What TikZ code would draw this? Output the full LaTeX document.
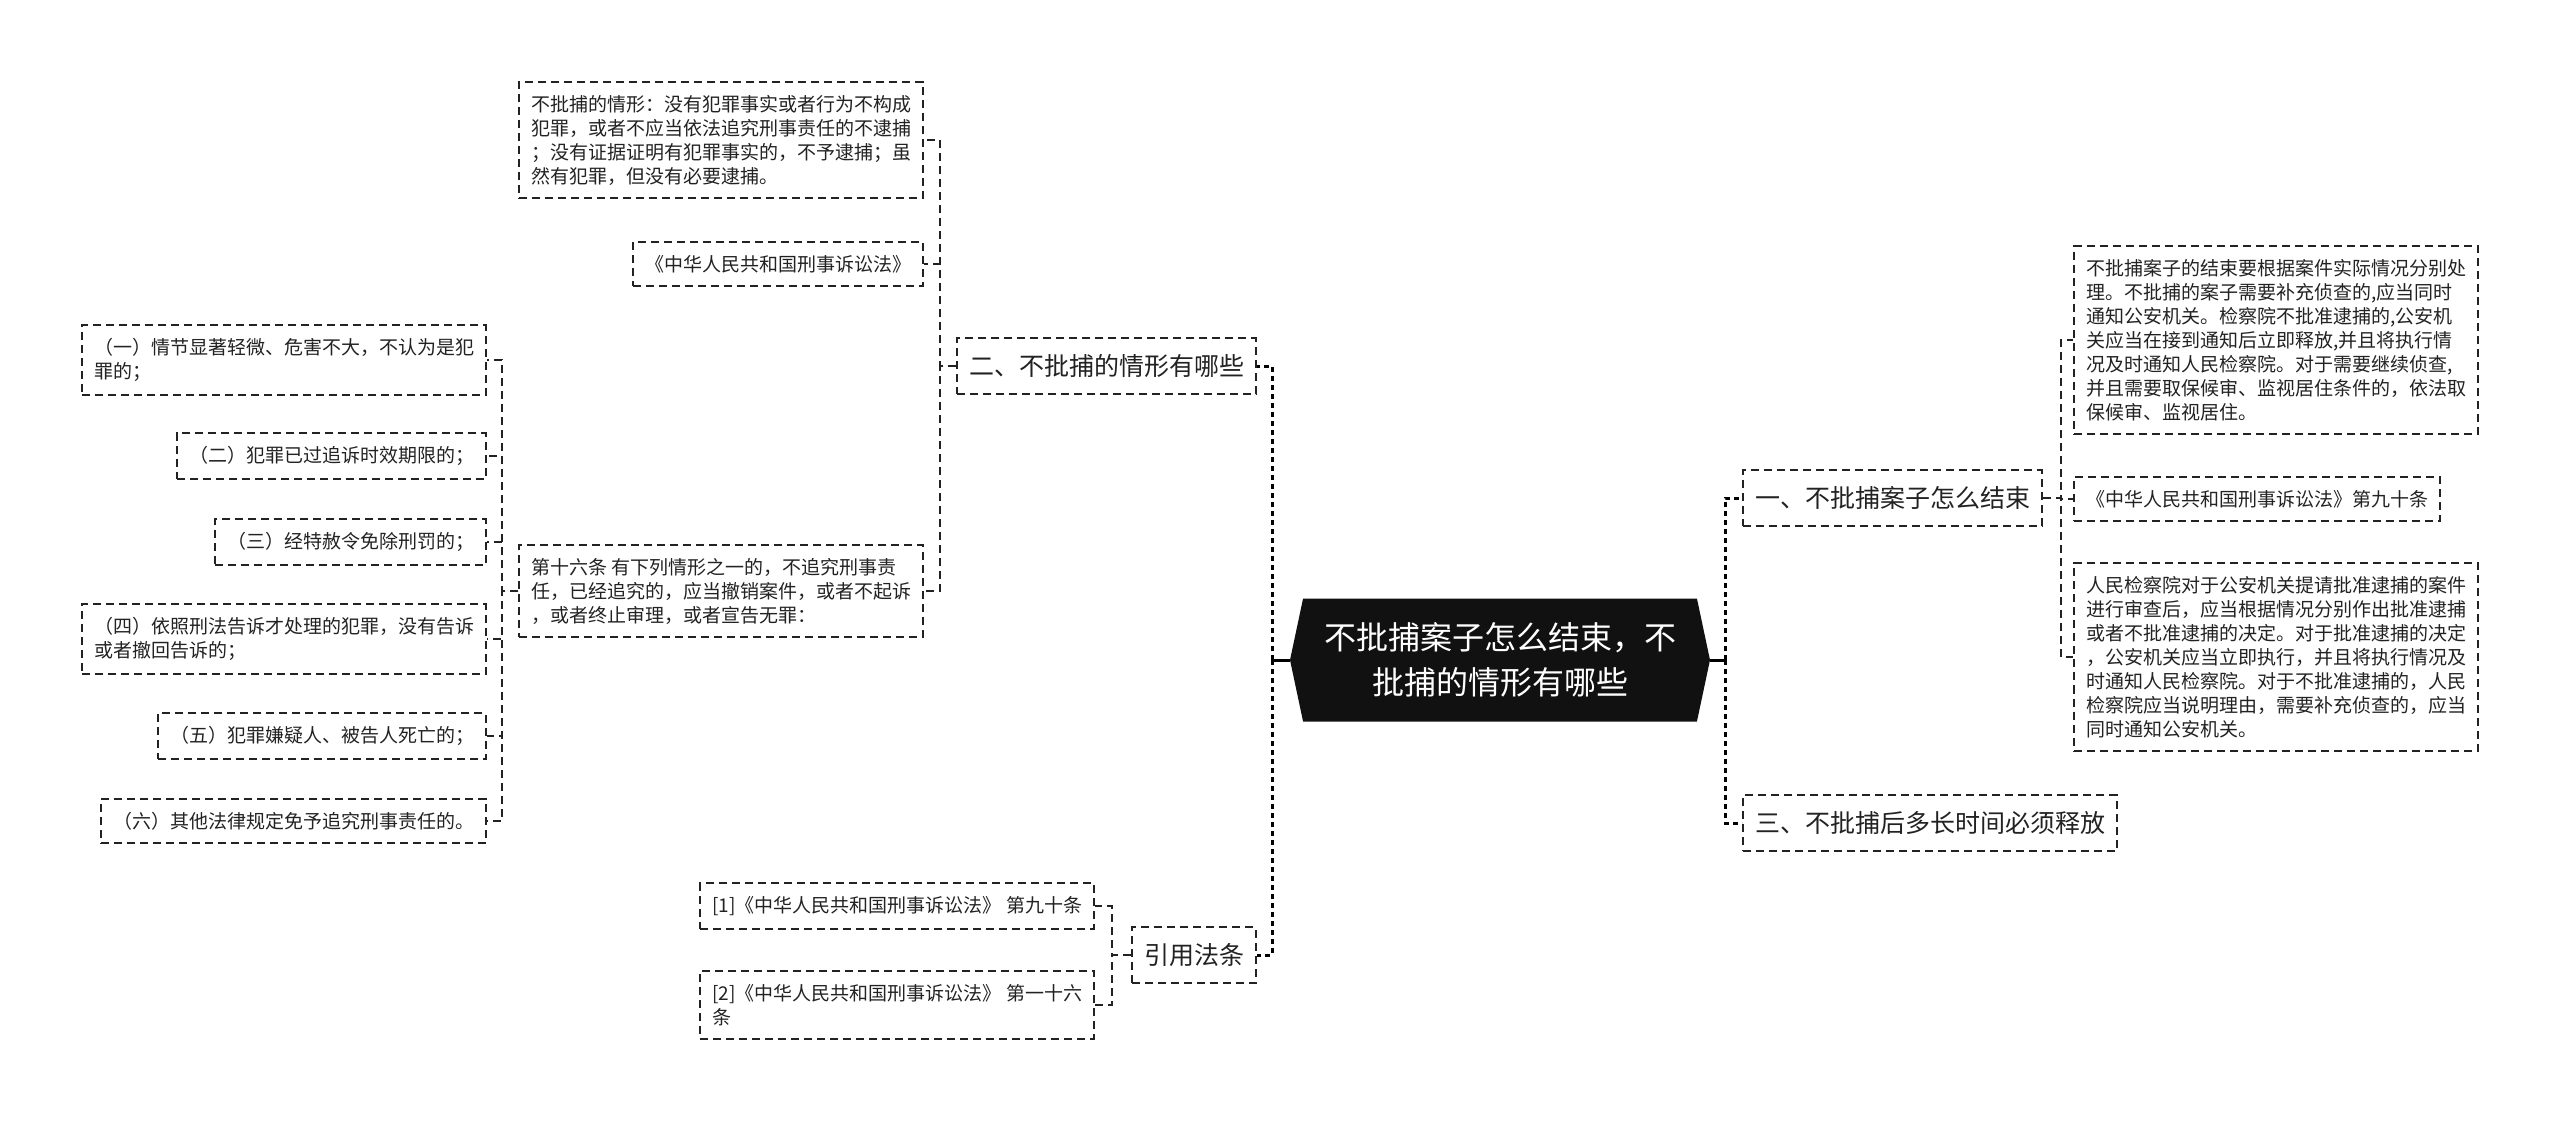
\documentclass[tikz,border=0pt]{standalone}
\usepackage{fontspec}
\setmainfont{Noto Sans CJK SC}
\usetikzlibrary{shapes.symbols, positioning}
\definecolor{inkgray}{HTML}{222222}
\definecolor{rootfill}{HTML}{111111}
\tikzset{
  leafbox/.style={draw=inkgray, line width=2pt, dash pattern=on 8pt off 5pt, text=inkgray, align=left, inner xsep=12pt, inner ysep=13pt, font=\fontsize{19pt}{24pt}\selectfont},
  branchbox/.style={leafbox, inner ysep=16pt, font=\fontsize{25pt}{30pt}\selectfont},
  rootbox/.style={signal, signal to=west and east, signal pointer angle=156, fill=rootfill, text=white, align=center, minimum width=420pt, minimum height=123pt, font=\fontsize{32pt}{45pt}\selectfont},
  mainspine/.style={line width=3pt, dash pattern=on 5pt off 4pt},
  subspine/.style={draw=inkgray, line width=2pt, dash pattern=on 8pt off 5pt},
}
\begin{document}
\begin{tikzpicture}[x=1pt, y=-1pt]
    \useasboundingbox (0,0) rectangle (2560,1121);

    % Root
    \node[rootbox] (root) at (1500,660) {不批捕案子怎么结束，不\\批捕的情形有哪些};

    % Main branches
    \node[branchbox, anchor=east] (why) at (1257,366) {二、不批捕的情形有哪些};
    \node[branchbox, anchor=east] (cite) at (1257,955) {引用法条};
    \node[branchbox, anchor=west] (howend) at (1742,498) {一、不批捕案子怎么结束};
    \node[branchbox, anchor=west] (release) at (1742,823) {三、不批捕后多长时间必须释放};

    % Under "二"
    \node[leafbox, anchor=east] (cond) at (924,140) {不批捕的情形：没有犯罪事实或者行为不构成\\犯罪，或者不应当依法追究刑事责任的不逮捕\\；没有证据证明有犯罪事实的，不予逮捕；虽\\然有犯罪，但没有必要逮捕。};
    \node[leafbox, anchor=east] (code) at (924,264) {《中华人民共和国刑事诉讼法》};
    \node[leafbox, anchor=east] (art) at (924,591) {第十六条 有下列情形之一的，不追究刑事责\\任，已经追究的，应当撤销案件，或者不起诉\\，或者终止审理，或者宣告无罪：};

    % Items of article 16
    \node[leafbox, anchor=east] (item1) at (487,360) {（一）情节显著轻微、危害不大，不认为是犯\\罪的；};
    \node[leafbox, anchor=east] (item2) at (487,456) {（二）犯罪已过追诉时效期限的；};
    \node[leafbox, anchor=east] (item3) at (487,542) {（三）经特赦令免除刑罚的；};
    \node[leafbox, anchor=east] (item4) at (487,639) {（四）依照刑法告诉才处理的犯罪，没有告诉\\或者撤回告诉的；};
    \node[leafbox, anchor=east] (item5) at (487,736) {（五）犯罪嫌疑人、被告人死亡的；};
    \node[leafbox, anchor=east] (item6) at (487,821) {（六）其他法律规定免予追究刑事责任的。};

    % Cited articles
    \node[leafbox, anchor=east] (ref1) at (1095,906) {[1]《中华人民共和国刑事诉讼法》 第九十条};
    \node[leafbox, anchor=east] (ref2) at (1095,1005) {[2]《中华人民共和国刑事诉讼法》 第一十六\\条};

    % Under "一"
    \node[leafbox, anchor=west] (endproc) at (2073,340) {不批捕案子的结束要根据案件实际情况分别处\\理。不批捕的案子需要补充侦查的,应当同时\\通知公安机关。检察院不批准逮捕的,公安机\\关应当在接到通知后立即释放,并且将执行情\\况及时通知人民检察院。对于需要继续侦查,\\并且需要取保候审、监视居住条件的，依法取\\保候审、监视居住。};
    \node[leafbox, anchor=west] (endcode) at (2073,499) {《中华人民共和国刑事诉讼法》第九十条};
    \node[leafbox, anchor=west] (endreview) at (2073,657) {人民检察院对于公安机关提请批准逮捕的案件\\进行审查后，应当根据情况分别作出批准逮捕\\或者不批准逮捕的决定。对于批准逮捕的决定\\，公安机关应当立即执行，并且将执行情况及\\时通知人民检察院。对于不批准逮捕的，人民\\检察院应当说明理由，需要补充侦查的，应当\\同时通知公安机关。};

    % Connectors
    \coordinate (spineL) at (1272,660);
    \coordinate (spineR) at (1725,660);
    \draw[line width=3pt] (root.west) -- (spineL);
    \draw[line width=3pt] (root.east) -- (spineR);
    \foreach \b in {why,cite} \draw[mainspine] (spineL) |- (\b.east);
    \foreach \b in {howend,release} \draw[mainspine] (spineR) |- (\b.west);
    \foreach \c in {cond,code,art} \draw[subspine] (why.west) -- ++(-16,0) |- (\c.east);
    \foreach \c in {item1,item2,item3,item4,item5,item6} \draw[subspine] (art.west) -- ++(-16,0) |- (\c.east);
    \foreach \c in {ref1,ref2} \draw[subspine] (cite.west) -- ++(-19,0) |- (\c.east);
    \foreach \c in {endproc,endcode,endreview} \draw[subspine] (howend.east) -- ++(18,0) |- (\c.west);
\end{tikzpicture}
\end{document}
